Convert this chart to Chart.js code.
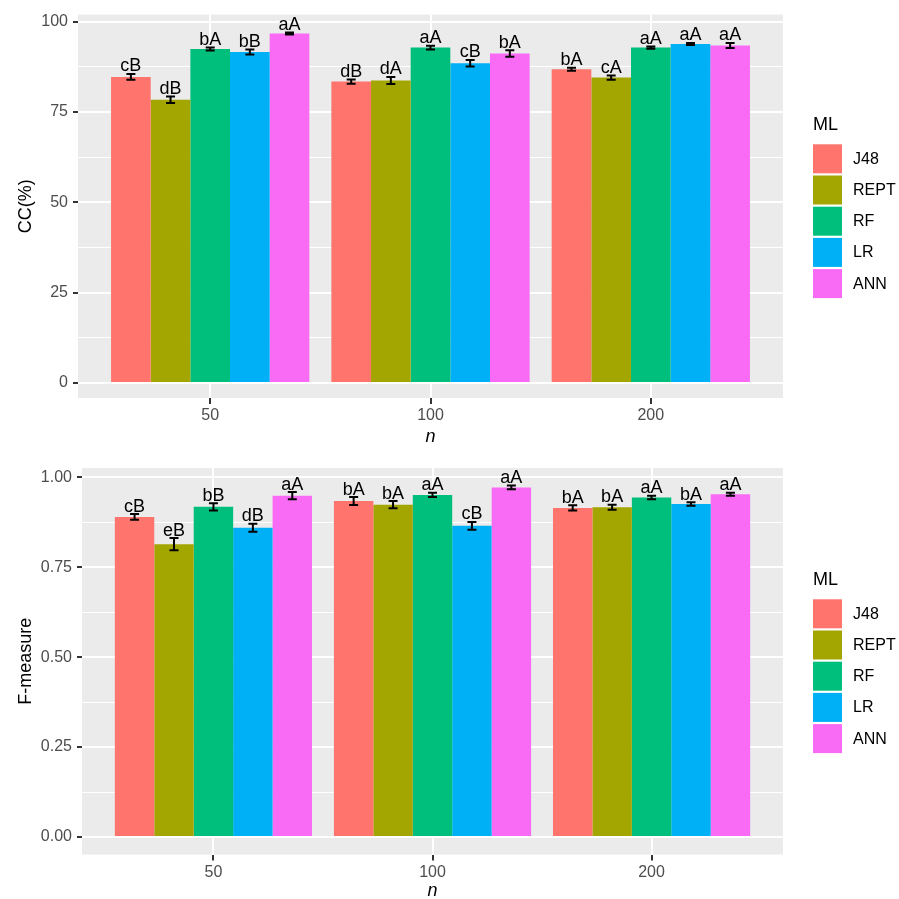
<!DOCTYPE html>
<html>
<head>
<meta charset="utf-8">
<script src="https://cdn.jsdelivr.net/npm/chart.js@4.4.0/dist/chart.umd.min.js"></script>
<style>
body { margin: 0; background: #fff; overflow: hidden; }
canvas { position: absolute; left: 0; }
#ccChart { top: 0; }
#fmChart { top: 449px; }
</style>
</head>
<body>
<canvas id="ccChart" width="899" height="449"></canvas>
<canvas id="fmChart" width="899" height="450"></canvas>
<script>
// groups on the x axis and the models (one dataset each)
var categories = ['50', '100', '200'];
var models = ['J48', 'REPT', 'RF', 'LR', 'ANN'];
var colors = ['#FF756D', '#A3A500', '#00BF7D', '#00B0F6', '#F96BF5'];
var legendTitle = 'ML';

// CC(%) - rows follow models, columns follow categories
var ccMean = [
    [84.7, 83.4, 86.8],
    [78.4, 83.7, 84.5],
    [92.4, 92.8, 92.8],
    [91.6, 88.5, 93.8],
    [96.7, 91.2, 93.4]
];
var ccErr = [
    [0.8, 0.6, 0.4],
    [0.9, 1.0, 0.6],
    [0.4, 0.5, 0.3],
    [0.7, 0.9, 0.3],
    [0.3, 0.9, 0.7]
];
var ccLetters = [
    ['cB', 'dB', 'bA'],
    ['dB', 'dA', 'cA'],
    ['bA', 'aA', 'aA'],
    ['bB', 'cB', 'aA'],
    ['aA', 'bA', 'aA']
];
var ccTicks = [0, 25, 50, 75, 100];

// F-measure
var fmMean = [
    [0.890, 0.934, 0.915],
    [0.814, 0.924, 0.917],
    [0.918, 0.951, 0.944],
    [0.860, 0.865, 0.926],
    [0.949, 0.972, 0.953]
];
var fmErr = [
    [0.008, 0.011, 0.007],
    [0.017, 0.010, 0.007],
    [0.010, 0.006, 0.005],
    [0.011, 0.011, 0.005],
    [0.010, 0.005, 0.004]
];
var fmLetters = [
    ['cB', 'bA', 'bA'],
    ['eB', 'bA', 'bA'],
    ['bB', 'aA', 'aA'],
    ['dB', 'cB', 'bA'],
    ['aA', 'aA', 'aA']
];
var fmTicks = [0, 0.25, 0.5, 0.75, 1];

var FONT = '"Liberation Sans", Arial, Helvetica, sans-serif';

// grey ggplot panel
var panelBg = {
    id: 'panelBg',
    beforeDraw: function (chart) {
        var a = chart.chartArea, c = chart.ctx;
        c.save();
        c.fillStyle = '#EBEBEB';
        c.fillRect(a.left, a.top, a.right - a.left, a.bottom - a.top);
        c.restore();
    }
};

// error bars + significance letters
var errorLabels = {
    id: 'errorLabels',
    afterDatasetsDraw: function (chart) {
        var c = chart.ctx, y = chart.scales.y;
        c.save();
        c.strokeStyle = '#000';
        c.fillStyle = '#000';
        c.lineWidth = 2;
        c.font = '18px ' + FONT;
        c.textAlign = 'center';
        c.textBaseline = 'alphabetic';
        chart.data.datasets.forEach(function (ds, i) {
            chart.getDatasetMeta(i).data.forEach(function (bar, j) {
                var m = ds.data[j].y, e = ds.errors[j];
                var top = y.getPixelForValue(m + e);
                var bot = y.getPixelForValue(m - e);
                c.beginPath();
                c.moveTo(bar.x, top); c.lineTo(bar.x, bot);
                c.moveTo(bar.x - 4.5, top); c.lineTo(bar.x + 4.5, top);
                c.moveTo(bar.x - 4.5, bot); c.lineTo(bar.x + 4.5, bot);
                c.stroke();
                c.fillText(ds.letters[j], bar.x, top - 2.5);
            });
        });
        c.restore();
    }
};

// legend on the right, like ggplot
var sideLegend = {
    id: 'sideLegend',
    afterDraw: function (chart) {
        var a = chart.chartArea, c = chart.ctx;
        var mid = (a.top + a.bottom) / 2;
        var x = a.right + 30;
        c.save();
        c.textAlign = 'left';
        c.textBaseline = 'middle';
        c.fillStyle = '#000';
        c.font = '18px ' + FONT;
        c.fillText(legendTitle, x, mid - 81);
        c.font = '16px ' + FONT;
        chart.data.datasets.forEach(function (ds, i) {
            var top = mid - 62 + i * 31.2;
            c.fillStyle = ds.backgroundColor;
            c.fillRect(x, top, 29, 29);
            c.fillStyle = '#000';
            c.fillText(ds.label, x + 40, top + 15);
        });
        c.restore();
    }
};

function makeChart(id, mean, err, letters, ticks, yMin, yMax, yTitle, digits, pad) {
    var step = ticks[1] - ticks[0];
    var allTicks = [];
    ticks.forEach(function (t, k) {
        allTicks.push(t);
        if (k < ticks.length - 1) allTicks.push(t + step / 2);
    });
    var isMajor = function (v) {
        return ticks.some(function (t) { return Math.abs(t - v) < 1e-9; });
    };

    var datasets = models.map(function (name, i) {
        return {
            label: name,
            data: categories.map(function (c, k) { return { x: k + 1, y: mean[i][k] }; }),
            errors: err[i],
            letters: letters[i],
            backgroundColor: colors[i],
            borderWidth: 0,
            categoryPercentage: 0.9,
            barPercentage: 1.0
        };
    });

    return new Chart(document.getElementById(id), {
        type: 'bar',
        data: { datasets: datasets },
        options: {
            responsive: false,
            animation: false,
            layout: { padding: { top: pad.top, right: 116, left: 0, bottom: 0 } },
            plugins: { legend: { display: false }, tooltip: { enabled: false } },
            scales: {
                x: {
                    type: 'linear',
                    min: 0.4,
                    max: 3.6,
                    offset: false,
                    afterBuildTicks: function (scale) {
                        scale.ticks = categories.map(function (c, k) { return { value: k + 1 }; });
                    },
                    afterFit: function (scale) { scale.height = pad.xAxis; },
                    ticks: {
                        padding: 2,
                        color: '#4D4D4D',
                        font: { family: FONT, size: 16 },
                        callback: function (v) { return categories[v - 1]; }
                    },
                    grid: {
                        offset: false,
                        color: '#FFFFFF',
                        lineWidth: 2,
                        tickColor: '#333333',
                        tickLength: 6,
                        tickWidth: 2
                    },
                    border: { display: false },
                    title: {
                        display: true,
                        text: 'n',
                        color: '#000',
                        font: { family: FONT, size: 18, style: 'italic' },
                        padding: { top: 0, bottom: pad.nTitle }
                    }
                },
                y: {
                    min: yMin,
                    max: yMax,
                    bounds: 'data',
                    afterBuildTicks: function (scale) {
                        scale.ticks = allTicks.map(function (v) { return { value: v }; });
                    },
                    afterFit: function (scale) { scale.width = pad.yAxis; },
                    ticks: {
                        padding: 5,
                        color: '#4D4D4D',
                        font: { family: FONT, size: 16 },
                        callback: function (v) { return isMajor(v) ? v.toFixed(digits) : ''; }
                    },
                    grid: {
                        color: '#FFFFFF',
                        lineWidth: function (ctx) { return isMajor(ctx.tick.value) ? 2 : 1; },
                        tickColor: function (ctx) { return isMajor(ctx.tick.value) ? '#333333' : 'rgba(0,0,0,0)'; },
                        tickLength: 5,
                        tickWidth: 2
                    },
                    border: { display: false },
                    title: {
                        display: true,
                        text: yTitle,
                        color: '#000',
                        font: { family: FONT, size: 18 },
                        padding: { top: 15, bottom: 0 }
                    }
                }
            }
        },
        plugins: [panelBg, errorLabels, sideLegend]
    });
}

makeChart('ccChart', ccMean, ccErr, ccLetters, ccTicks, -4.13, 101.93, 'CC(%)', 0,
    { top: 13, xAxis: 51, yAxis: 78, nTitle: 1 });
makeChart('fmChart', fmMean, fmErr, fmLetters, fmTicks, -0.0489, 1.0259, 'F-measure', 2,
    { top: 19, xAxis: 44.4, yAxis: 82, nTitle: -3 });
</script>
</body>
</html>
